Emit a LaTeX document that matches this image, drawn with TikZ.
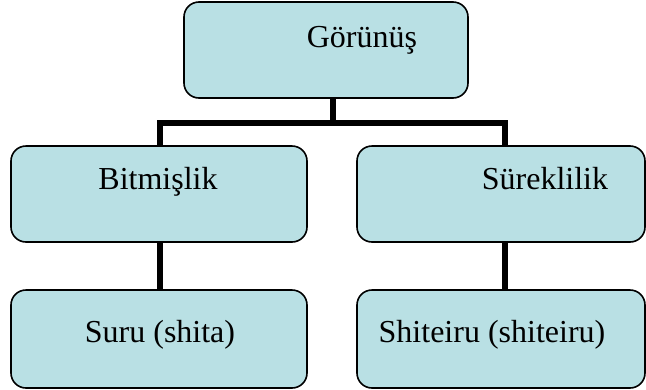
\documentclass[tikz,border=0pt]{standalone}
\usepackage{fontspec}
\setmainfont{Liberation Serif}
\begin{document}
\begin{tikzpicture}[x=1pt,y=-1pt,
  box/.style={draw=black, line width=1.6pt, fill=boxfill, rounded corners=15pt,
    inner sep=0pt, outer sep=0pt},
  lbl/.style={anchor=base, inner sep=0pt, font=\fontsize{32}{38}\selectfont},
  conn/.style={line width=6pt}]
\definecolor{boxfill}{RGB}{185,224,228}
\useasboundingbox (0,0) rectangle (646,389);
\node[box, minimum width=284pt, minimum height=96pt] (top) at (326,50) {};
\node[box, minimum width=296pt, minimum height=96pt] (bit) at (159,194) {};
\node[box, minimum width=288pt, minimum height=96pt] (sur) at (501,194) {};
\node[box, minimum width=296pt, minimum height=98pt] (suru) at (159,339) {};
\node[box, minimum width=288pt, minimum height=98pt] (shi) at (501,339) {};
\node[lbl] (tt) at (362,47) {Görünüş};
\node[lbl] (bt) at (158,189) {Bitmişlik};
\node[lbl] (st) at (545,189) {Süreklilik};
\node[lbl] (sut) at (160,342) {Suru (shita)};
\node[lbl] (sht) at (492,342) {Shiteiru (shiteiru)};
\coordinate (bar) at (333,123);
\coordinate (lx) at (160,0);
\coordinate (rx) at (505,0);
\draw[conn] (top.south -| bar) -- (bar);
\draw[conn] (bit.north -| lx) |- (bar) -| (sur.north -| rx);
\draw[conn] (bit.south -| lx) -- (suru.north -| lx);
\draw[conn] (sur.south -| rx) -- (shi.north -| rx);
\end{tikzpicture}
\end{document}
